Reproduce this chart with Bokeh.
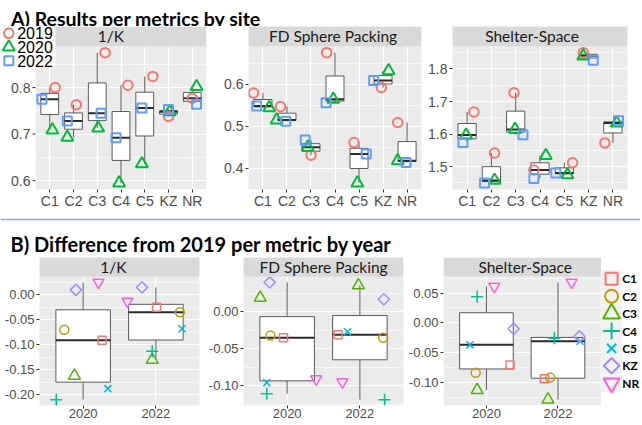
import numpy as np
from bokeh.plotting import figure
from bokeh.models import (Range1d, FixedTicker, BoxAnnotation, Label, Grid,
                          Span, PrintfTickFormatter, ColumnDataSource)
from bokeh.layouts import column, row
from bokeh.core.properties import value
from bokeh.embed import file_html
from bokeh.resources import INLINE
from bokeh.core.validation import silence
from bokeh.core.validation.warnings import MISSING_RENDERERS

silence(MISSING_RENDERERS, True)

# ---------------- data ----------------
sites = ["C1", "C2", "C3", "C4", "C5", "KZ", "NR"]
years = ["2019", "2020", "2022"]
metrics = ["1/K", "FD Sphere Packing", "Shelter-Space"]

invk_2019 = [0.800, 0.763, 0.875, 0.805, 0.824, 0.738, 0.777]
invk_2020 = [0.709, 0.693, 0.713, 0.595, 0.636, 0.748, 0.802]
invk_2022 = [0.775, 0.728, 0.745, 0.692, 0.756, 0.753, 0.764]

fd_2019 = [0.579, 0.547, 0.431, 0.675, 0.461, 0.592, 0.509]
fd_2020 = [0.544, 0.515, 0.450, 0.564, 0.365, 0.632, 0.418]
fd_2022 = [0.548, 0.512, 0.467, 0.556, 0.434, 0.609, 0.414]

shelter_2019 = [1.668, 1.542, 1.727, 1.490, 1.512, 1.850, 1.573]
shelter_2020 = [1.597, 1.458, 1.614, 1.534, 1.475, 1.840, 1.634]
shelter_2022 = [1.574, 1.450, 1.598, 1.464, 1.481, 1.827, 1.641]

# y tick values
invk_ticks = [0.6, 0.7, 0.8]
fd_ticks = [0.4, 0.5, 0.6]
shelter_ticks = [1.5, 1.6, 1.7, 1.8]
invk_diff_ticks = [-0.20, -0.15, -0.10, -0.05, 0.00]
fd_diff_ticks = [-0.10, -0.05, 0.00]
shelter_diff_ticks = [-0.10, -0.05, 0.00, 0.05]

# horizontal jitter of the points (in category units)
jit_invk = [[0.23, 0.12, 0.33, 0.29, 0.34, 0.00, 0.00],
            [0.11, -0.26, 0.04, -0.08, -0.12, 0.05, 0.18],
            [-0.33, -0.26, 0.16, -0.21, -0.12, 0.00, 0.18]]
jit_fd = [[-0.39, -0.27, 0.00, -0.35, -0.21, -0.07, -0.39],
          [0.26, -0.43, -0.13, -0.07, -0.07, 0.23, -0.39],
          [-0.26, -0.05, -0.24, -0.37, 0.30, -0.39, -0.04]]
jit_shelter = [[0.28, 0.13, -0.07, -0.25, 0.34, -0.22, -0.33],
               [-0.04, 0.13, -0.03, 0.24, 0.13, -0.22, 0.16],
               [-0.17, -0.28, 0.30, -0.25, -0.35, 0.19, 0.23]]
jit_invk_diff = [[0.26, -0.26, -0.12, -0.37, 0.34, -0.10, 0.21],
                 [0.01, 0.33, -0.05, -0.05, 0.36, -0.19, -0.39]]
jit_fd_diff = [[-0.05, -0.23, -0.37, -0.28, -0.28, -0.24, 0.40],
               [-0.30, 0.32, -0.02, 0.34, -0.17, 0.33, -0.24]]
jit_shelter_diff = [[0.33, -0.15, -0.13, -0.13, -0.23, 0.38, 0.11],
                    [-0.19, -0.11, -0.14, -0.05, 0.31, 0.30, 0.19]]

# ---------------- styles ----------------
AXIS_FONT = "Liberation Sans"
CAL_FONT = "Lato"
PANEL_BG = "#EBEBEB"
STRIP_BG = "#D9D9D9"
TXT_GREY = "#4D4D4D"
BOX_LINE = "#5A5A5A"
YEAR_COLORS = ["#F8766D", "#00BA38", "#619CFF"]
YEAR_MARKERS = ["circle", "triangle", "square"]
YEAR_SIZES = [9.5, 12, 9]
SITE_COLORS = ["#F8766D", "#C49A00", "#53B400", "#00C094", "#00B6EB", "#A58AFF", "#FB61D7"]
SITE_MARKERS = ["square", "circle", "triangle", "cross", "x", "square", "inverted_triangle"]
SITE_SIZES = [8, 9, 12, 12, 10, 8, 11]
LEG_SIZES = [12, 13, 17, 17, 13, 11, 16]
SITE_ANGLES = [0, 0, 0, 0, 0, np.pi / 4, 0]


def box_stats(vals):
    v = np.asarray(vals, dtype=float)
    q1, med, q3 = np.percentile(v, [25, 50, 75])
    iqr = q3 - q1
    lo = v[v >= q1 - 1.5 * iqr].min()
    hi = v[v <= q3 + 1.5 * iqr].max()
    return q1, med, q3, lo, hi


def style_axis(ax, tick_size):
    ax.axis_line_color = None
    ax.major_tick_line_color = "#333333"
    ax.major_tick_out = 3
    ax.major_tick_in = 0
    ax.minor_tick_out = 0
    ax.minor_tick_in = 0
    ax.major_label_text_font = AXIS_FONT
    ax.major_label_text_font_size = tick_size
    ax.major_label_text_color = TXT_GREY


def panel(W, H, L, R, B, strip_h, cats, all_vals, yticks, fmt, label, label_dx, tick_size,
          ext_left=0, ext_right=0):
    """ggplot-like facet panel; ext_left/ext_right add white zones inside the frame."""
    vmin, vmax = float(np.min(all_vals)), float(np.max(all_vals))
    pad = 0.05 * (vmax - vmin)
    lo, hi = vmin - pad, vmax + pad
    frame_h = H - B
    panel_h = frame_h - strip_h
    top = hi + (hi - lo) * strip_h / panel_h
    n = len(cats)
    frame_w = W - L - R
    upp = (n + 0.2) / (frame_w - ext_left - ext_right)
    x0 = 0.4 - ext_left * upp
    x1 = n + 0.6 + ext_right * upp
    p = figure(width=W, height=H, x_range=Range1d(x0, x1), y_range=Range1d(lo, top),
               min_border_left=L, min_border_right=R, min_border_top=0, min_border_bottom=B,
               y_axis_location=(None if ext_left else "left"),
               title=None, toolbar_location=None, output_backend="svg")
    p.border_fill_color = "white"
    p.outline_line_color = None
    p.xaxis.ticker = FixedTicker(ticks=list(range(1, n + 1)))
    p.xaxis.major_label_overrides = {i + 1: c for i, c in enumerate(cats)}
    style_axis(p.xaxis[0], tick_size)
    p.xaxis.major_label_standoff = 0
    step = yticks[1] - yticks[0]
    minors = [t + step / 2 for t in yticks] + [yticks[0] - step / 2]
    minors = [m for m in minors if lo < m < hi]
    yt = FixedTicker(ticks=yticks, minor_ticks=minors)
    ygrids = [g for g in p.center if isinstance(g, Grid) and g.dimension == 1]
    if not ygrids:
        g = Grid(dimension=1)
        p.add_layout(g, "center")
        ygrids = [g]
    yg = ygrids[0]
    yg.ticker = yt
    if not ext_left:
        p.yaxis.ticker = yt
        p.yaxis.formatter = PrintfTickFormatter(format=fmt)
        style_axis(p.yaxis[0], tick_size)
        p.yaxis.major_label_standoff = 2
    p.xgrid.grid_line_color = "white"
    p.xgrid.grid_line_width = 1.2
    yg.grid_line_color = "white"
    yg.grid_line_width = 1.2
    yg.minor_grid_line_color = "white"
    yg.minor_grid_line_width = 0.6

    if ext_left or ext_right:
        p.background_fill_color = "white"
        bg = BoxAnnotation(left=0.4, right=n + 0.6, bottom=lo, top=hi, fill_color=PANEL_BG,
                           fill_alpha=1, line_color=None, level="underlay")
        p.center = [bg] + list(p.center)
        if ext_left:
            p.add_layout(BoxAnnotation(left=x0, right=0.4, bottom=lo, top=top, fill_color="white",
                                       fill_alpha=1, line_color=None, level="underlay"))
            xa = lambda px: x0 + px * upp
            p.segment(x0=[xa(ext_left - 3)] * len(yticks), x1=[0.4] * len(yticks), y0=yticks,
                      y1=yticks, line_color="#333333", line_width=1)
            p.text(x=[xa(ext_left - 5)] * len(yticks), y=yticks, text=[fmt % t for t in yticks],
                   text_align="right", text_baseline="middle", text_font=value(AXIS_FONT),
                   text_font_size=value(tick_size), text_color=TXT_GREY)
        if ext_right:
            p.add_layout(BoxAnnotation(left=n + 0.6, right=x1, bottom=lo, top=top,
                                       fill_color="white", fill_alpha=1, line_color=None,
                                       level="underlay"))
    else:
        p.background_fill_color = PANEL_BG

    p.add_layout(BoxAnnotation(left=0.4, right=n + 0.6, bottom=hi, top=top,
                               fill_color=STRIP_BG, fill_alpha=1, line_color=None))
    p.add_layout(Label(x=(n + 1) / 2, y=(hi + top) / 2, x_offset=label_dx, text=label,
                       text_align="center", text_baseline="middle", text_font=CAL_FONT,
                       text_font_size="15.5px", text_color="#1A1A1A"))
    geo = dict(x0=x0, x_right=n + 0.6, upp=upp, top=top, lo=lo, ypp=(top - lo) / frame_h)
    return p, geo


def draw_boxes(p, groups, xs):
    st = np.array([box_stats(g) for g in groups])
    xs = np.asarray(xs, dtype=float)
    src = ColumnDataSource(dict(x=xs, left=xs - 0.375, right=xs + 0.375, q1=st[:, 0],
                                med=st[:, 1], q3=st[:, 2], lo=st[:, 3], hi=st[:, 4]))
    p.segment(x0="x", y0="q3", x1="x", y1="hi", source=src, line_color=BOX_LINE, line_width=1)
    p.segment(x0="x", y0="lo", x1="x", y1="q1", source=src, line_color=BOX_LINE, line_width=1)
    p.quad(left="left", right="right", bottom="q1", top="q3", source=src,
           fill_color="white", line_color=BOX_LINE, line_width=1)
    p.segment(x0="left", y0="med", x1="right", y1="med", source=src,
              line_color="#2B2B2B", line_width=2)


def blank(w, h):
    f = figure(width=w, height=h, x_range=Range1d(0, w), y_range=Range1d(0, h),
               x_axis_location=None, y_axis_location=None, toolbar_location=None,
               title=None, output_backend="svg", min_border=0)
    f.grid.grid_line_color = None
    f.outline_line_color = None
    f.background_fill_color = "white"
    f.border_fill_color = "white"
    return f


# ---------------- top row ----------------
top_data = [(invk_2019, invk_2020, invk_2022), (fd_2019, fd_2020, fd_2022),
            (shelter_2019, shelter_2020, shelter_2022)]
top_jit = [jit_invk, jit_fd, jit_shelter]
top_ticks = [invk_ticks, fd_ticks, shelter_ticks]
# (fig width, left border, right border, strip-label shift, y-axis zone inside frame)
top_geom = [(212, 0, 6, -10, 35), (210, 36, 1, -2, 0), (218, 30, 13, -8, 0)]
TOP_H, TOP_B, TOP_STRIP = 185, 19, 20

top_figs = []
for m in range(3):
    W, L, R, dx, ext = top_geom[m]
    vals = top_data[m]
    allv = np.concatenate([np.asarray(v) for v in vals])
    p, geo = panel(W, TOP_H, L, R, TOP_B, TOP_STRIP, sites, allv, top_ticks[m], "%.1f",
                   metrics[m], dx, "14px", ext_left=ext)
    x = np.arange(1, len(sites) + 1)
    draw_boxes(p, [[vals[0][i], vals[1][i], vals[2][i]] for i in range(len(sites))], x)
    for yi in range(3):
        p.scatter(x=x + np.asarray(top_jit[m][yi]), y=vals[yi], marker=YEAR_MARKERS[yi],
                  size=YEAR_SIZES[yi], line_color=YEAR_COLORS[yi], fill_color=None, line_width=2)
    if m == 0:
        # legend box drawn over the top-left corner of the first panel
        xa = lambda px: geo["x0"] + px * geo["upp"]
        ya = lambda py: geo["top"] - py * geo["ypp"]
        p.add_layout(BoxAnnotation(left=geo["x0"], right=xa(55), bottom=ya(41), top=geo["top"],
                                   fill_color="white", fill_alpha=1, line_color=None))
        for yi in range(3):
            r = p.scatter(x=[xa(8.3)], y=[ya(7 + 14 * yi)], marker=YEAR_MARKERS[yi],
                          size=YEAR_SIZES[yi], line_color=YEAR_COLORS[yi], fill_color=None,
                          line_width=2)
            r.level = "overlay"
        t = p.text(x=[xa(16.7)] * 3, y=[ya(7 + 14 * yi) for yi in range(3)], text=years,
                   text_baseline="middle", text_align="left", text_font=value(AXIS_FONT),
                   text_font_size=value("16px"), text_color="black")
        t.level = "overlay"
    top_figs.append(p)

# ---------------- bottom row ----------------
diff_years = ["2020", "2022"]
diff_ticks = [invk_diff_ticks, fd_diff_ticks, shelter_diff_ticks]
diff_jit = [jit_invk_diff, jit_fd_diff, jit_shelter_diff]
# (fig width, left border, right border, strip-label shift, legend zone inside frame)
bot_geom = [(203, 39, 4, -6, 0), (202, 40, 2, 0, 0), (235, 36, 0, 3, 40)]
BOT_H, BOT_B, BOT_STRIP = 166, 18, 19

bot_figs = []
for m in range(3):
    W, L, R, dx, ext_r = bot_geom[m]
    base = np.asarray(top_data[m][0])
    diffs = [np.asarray(top_data[m][1]) - base, np.asarray(top_data[m][2]) - base]
    allv = np.concatenate(diffs)
    p, geo = panel(W, BOT_H, L, R, BOT_B, BOT_STRIP, diff_years, allv, diff_ticks[m], "%.2f",
                   metrics[m], dx, "13px", ext_right=ext_r)
    draw_boxes(p, diffs, [1, 2])
    for s in range(len(sites)):
        xs = np.array([1.0, 2.0]) + np.array([diff_jit[m][0][s], diff_jit[m][1][s]])
        ys = [diffs[0][s], diffs[1][s]]
        p.scatter(x=xs, y=ys, marker=SITE_MARKERS[s], size=SITE_SIZES[s], angle=SITE_ANGLES[s],
                  line_color=SITE_COLORS[s], fill_color=None, line_width=1.5)
    if ext_r:
        # site legend in the zone right of the panel
        xr = lambda px: geo["x_right"] + px * geo["upp"]
        ya = lambda py: geo["top"] - py * geo["ypp"]
        centres = [21.3 + 17.4 * i for i in range(len(sites))]
        p.quad(left=[xr(0)] * len(sites), right=[xr(21)] * len(sites),
               top=[ya(c - 8.7) for c in centres], bottom=[ya(c + 8.7) for c in centres],
               fill_color="#F2F2F2", line_color=None)
        for s in range(len(sites)):
            p.scatter(x=[xr(10.8)], y=[ya(centres[s])], marker=SITE_MARKERS[s], size=LEG_SIZES[s],
                      angle=SITE_ANGLES[s], line_color=SITE_COLORS[s], fill_color=None,
                      line_width=2)
        p.text(x=[xr(21.5)] * len(sites), y=[ya(c) for c in centres], text=sites,
               text_baseline="middle", text_align="left", text_font=value(CAL_FONT),
               text_font_style="bold", text_font_size=value("12px"), text_color="black")
    bot_figs.append(p)

# ---------------- titles / separator ----------------
title_a = blank(640, 26)
title_a.add_layout(Label(x=10.5, y=20, text="A) Results per metrics by site", text_font=CAL_FONT,
                         text_font_style="bold", text_font_size="19.5px", text_color="black",
                         text_baseline="top"))

mid = blank(640, 46)
mid.add_layout(Span(location=38, dimension="width", line_color="#8FAADC", line_width=1.5))
mid.add_layout(Label(x=10, y=13.7, text="B) Difference from 2019 per metric by year",
                     text_font=CAL_FONT, text_font_style="bold", text_font_size="20px",
                     text_color="black", text_baseline="alphabetic"))

layout = column(title_a, row(*top_figs), mid, row(*bot_figs))

with open("out.html", "w") as fh:
    fh.write(file_html(layout, INLINE))
